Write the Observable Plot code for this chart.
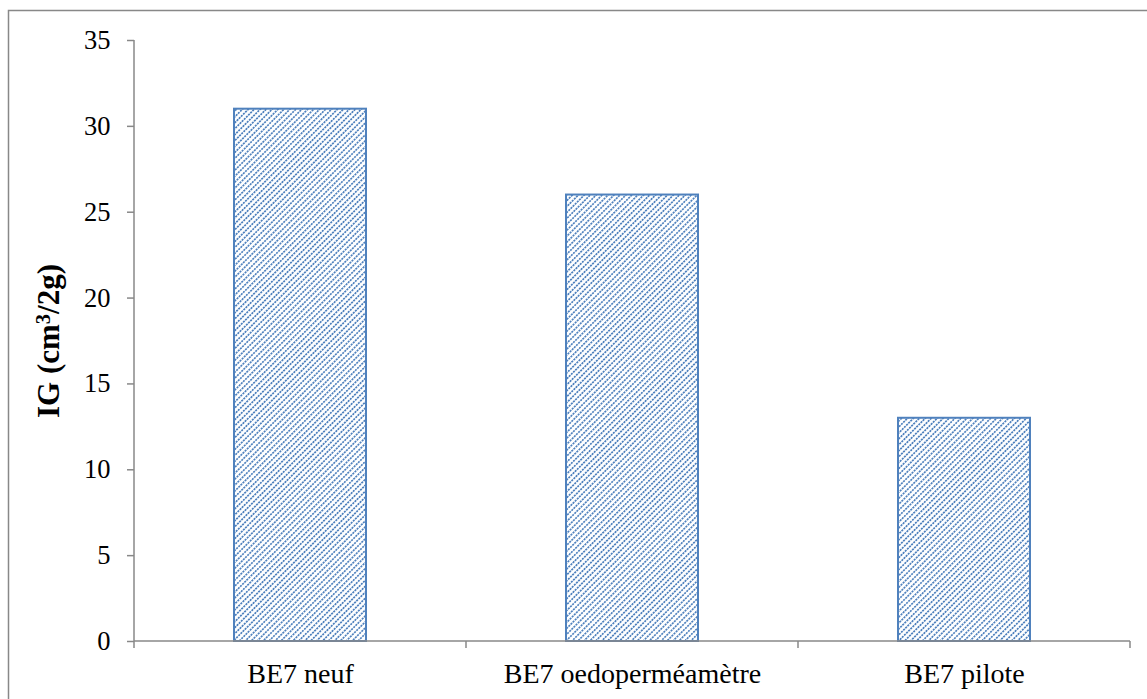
<!DOCTYPE html>
<html><head><meta charset="utf-8">
<script src="https://cdn.jsdelivr.net/npm/d3@7"></script>
<script src="https://cdn.jsdelivr.net/npm/@observablehq/plot@0.6"></script>
<style>
html,body{margin:0;padding:0;background:#fff;overflow:hidden;}
#chart svg, #chart svg text{font-family:"Liberation Serif","Times New Roman",serif !important;}
</style>
</head><body><div id="chart"></div>
<script>
const categories = ["BE7 neuf", "BE7 oedoperméamètre", "BE7 pilote"];
const values = [31, 26, 13];
const yTicks = [0, 5, 10, 15, 20, 25, 30, 35];
const yLabelParts = ["IG (cm", "3", "/2g)"];
const yLabel = [yLabelParts.join("")];

const data = categories.map((c, i) => ({category: c, value: values[i]}));
const axisColor = "#888888";
const barColor = "#4F81BD";
const fontFamily = "Liberation Serif";

const background = (index, scales, vals, dim) => {
  const g = d3.create("svg:g");
  const defs = g.append("defs");
  const pat = defs.append("pattern")
    .attr("id", "hatch").attr("patternUnits", "userSpaceOnUse")
    .attr("width", 4.2).attr("height", 3).attr("patternTransform", "rotate(45)");
  pat.append("rect").attr("width", 4.2).attr("height", 3).attr("fill", "white");
  pat.append("rect").attr("x", 0).attr("y", 0).attr("width", 1.7).attr("height", 2.1).attr("fill", barColor);
  g.append("rect")
    .attr("x", 8.5).attr("y", 10.5).attr("width", dim.width).attr("height", dim.height)
    .attr("fill", "none").attr("stroke", axisColor).attr("stroke-width", 1.5);
  return g.node();
};

const axes = (index, scales, vals, dim) => {
  const g = d3.create("svg:g").attr("stroke", axisColor).attr("stroke-width", 1.5).attr("fill", "none");
  const x0 = dim.marginLeft, x1 = dim.width - dim.marginRight;
  const yb = scales.y(0), yt = scales.y(d3.max(yTicks));
  g.append("line").attr("x1", x0).attr("x2", x0).attr("y1", yt).attr("y2", yb);
  g.append("line").attr("x1", x0).attr("x2", x1).attr("y1", yb).attr("y2", yb);
  const step = (x1 - x0) / categories.length;
  const bounds = categories.map(c => scales.x(c)).concat([scales.x(categories[categories.length - 1]) + step]);
  for (const bx of bounds) {
    g.append("line").attr("x1", bx).attr("x2", bx).attr("y1", yb).attr("y2", yb + 7);
  }
  return g.node();
};

const plot = Plot.plot({
  width: 1147,
  height: 699,
  marginLeft: 134,
  marginRight: 17,
  marginTop: 40,
  marginBottom: 58,
  style: {fontFamily, color: "black", background: "white"},
  x: {domain: categories, padding: 0, label: null},
  y: {domain: [0, 35], label: null},
  marks: [
    background,
    Plot.barY(data, {x: "category", y: "value", fill: "url(#hatch)", stroke: barColor, strokeWidth: 2, insetLeft: 100, insetRight: 100}),
    Plot.axisY(yTicks, {tickSize: 7, tickPadding: 17, fontSize: 26.5, fontFamily, stroke: axisColor, strokeWidth: 1.5, label: null}),
    Plot.axisX({tickSize: 0, tickPadding: 22, fontSize: 28, fontFamily, label: null}),
    Plot.text(yLabel, {frameAnchor: "left", textAnchor: "middle", dx: -85, dy: 0, rotate: -90, fontSize: 31, fontFamily, fontWeight: "bold"}),
    axes
  ]
});
document.getElementById("chart").appendChild(plot);

// render the exponent of the axis label as a true superscript
d3.select(plot).selectAll("text").filter(function() { return this.textContent === yLabel[0]; })
  .each(function() {
    const t = d3.select(this);
    t.text(null);
    t.append("tspan").text(yLabelParts[0]);
    t.append("tspan").attr("font-size", "0.66em").attr("dy", "-0.45em").text(yLabelParts[1]);
    t.append("tspan").attr("dy", "0.297em").text(yLabelParts[2]);
  });
</script>
</body></html>
